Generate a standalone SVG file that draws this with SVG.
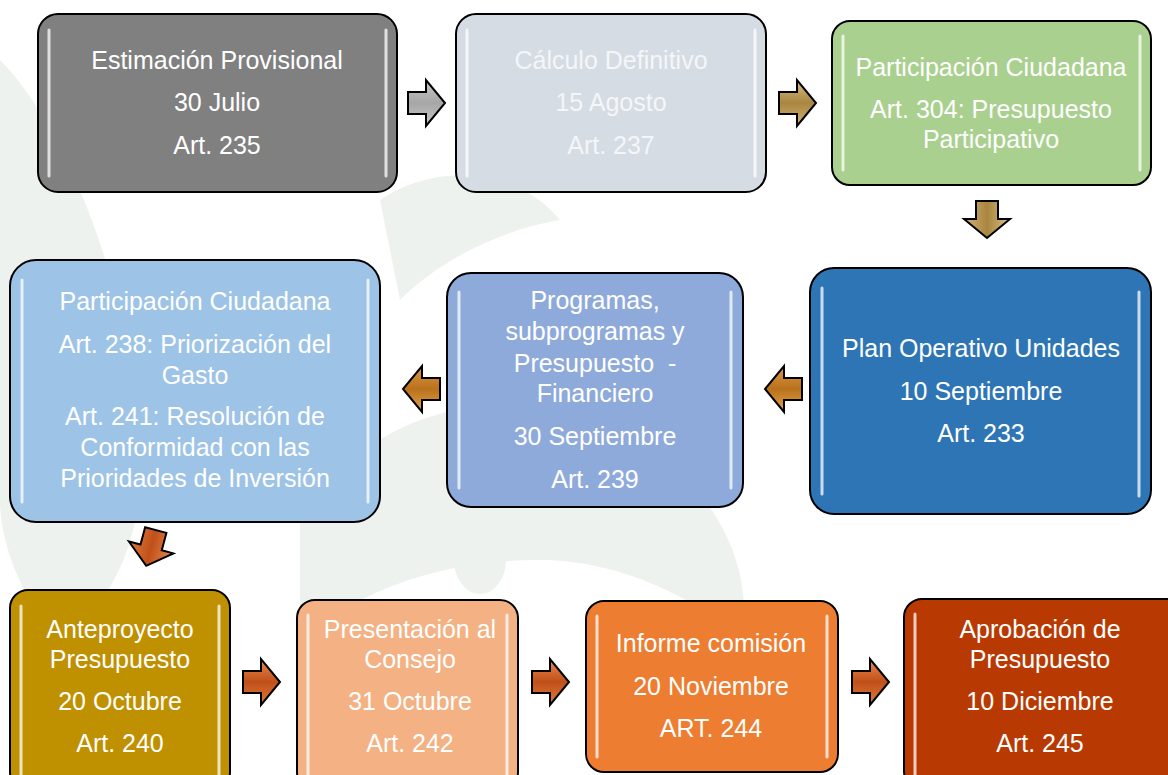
<svg xmlns="http://www.w3.org/2000/svg" width="1168" height="775" viewBox="0 0 1168 775">
<style>
.n{stroke:#000;stroke-width:2}
.t{font-family:"Liberation Sans",Arial,sans-serif;font-size:25px;fill:#fff;text-anchor:middle}
.tl{fill:#f4f6f8}
.hl{stroke:#fff;stroke-width:3;stroke-linecap:round;opacity:0.75}
.ar{stroke:#000;stroke-width:2;stroke-linejoin:miter}
.wm{fill:#eef2ee}
</style>
<defs>
<path id="arr" d="M0,12 H18 V0 L37,23 L18,46 V34 H0 Z"/>
<linearGradient id="gGray" x1="0" y1="0" x2="0" y2="1"><stop offset="0" stop-color="#c8c8c8"/><stop offset="0.5" stop-color="#a6a6a6"/><stop offset="1" stop-color="#c8c8c8"/></linearGradient>
<linearGradient id="gTan" x1="0" y1="0" x2="0" y2="1"><stop offset="0" stop-color="#d9bf86"/><stop offset="0.5" stop-color="#a98540"/><stop offset="1" stop-color="#d2b575"/></linearGradient>
<linearGradient id="gBrown" x1="0" y1="0" x2="0" y2="1"><stop offset="0" stop-color="#e3a24c"/><stop offset="0.5" stop-color="#b9711c"/><stop offset="1" stop-color="#dc9a45"/></linearGradient>
<linearGradient id="gOrange" x1="0" y1="0" x2="0" y2="1"><stop offset="0" stop-color="#e98a4f"/><stop offset="0.5" stop-color="#c0501a"/><stop offset="1" stop-color="#e07a3a"/></linearGradient>
</defs>
<rect width="1168" height="775" fill="#ffffff"/>
<g id="watermark">
<path class="wm" d="M0,60 C60,120 120,260 140,420 C150,520 120,600 60,640 C20,600 0,540 0,500 Z"/>
<path class="wm" d="M300,520 C360,420 480,380 600,420 C700,460 760,560 740,640 C700,600 620,560 540,560 C440,560 360,590 300,640 Z"/>
<path class="wm" d="M380,200 C440,160 520,170 560,220 C500,230 440,260 400,300 Z"/>
<ellipse class="wm" cx="480" cy="560" rx="26" ry="34"/>
</g>
<g id="connectors">
<use href="#arr" class="ar" fill="url(#gGray)" transform="translate(408,80)"/>
<use href="#arr" class="ar" fill="url(#gTan)" transform="translate(779,80)"/>
<use href="#arr" class="ar" fill="url(#gTan)" transform="translate(1010,201) rotate(90)"/>
<use href="#arr" class="ar" fill="url(#gBrown)" transform="translate(802,412) rotate(180)"/>
<use href="#arr" class="ar" fill="url(#gBrown)" transform="translate(440,412) rotate(180)"/>
<use href="#arr" class="ar" fill="url(#gOrange)" transform="translate(178,536) rotate(105)"/>
<use href="#arr" class="ar" fill="url(#gOrange)" transform="translate(243,659)"/>
<use href="#arr" class="ar" fill="url(#gOrange)" transform="translate(532,659)"/>
<use href="#arr" class="ar" fill="url(#gOrange)" transform="translate(852,659)"/>
</g>
<g id="n1">
<rect class="n" x="38" y="14" width="359" height="178" rx="20" fill="#808080"/>
<line class="hl" x1="49" y1="30" x2="49" y2="176"/><line class="hl" x1="386" y1="30" x2="386" y2="176"/>
<text class="t" x="217" y="69">Estimación Provisional</text>
<text class="t" x="217" y="111">30 Julio</text>
<text class="t" x="217" y="154">Art. 235</text>
</g>
<g id="n2">
<rect class="n" x="456" y="14" width="310" height="178" rx="20" fill="#d6dce4"/>
<line class="hl" x1="467" y1="30" x2="467" y2="176"/><line class="hl" x1="755" y1="30" x2="755" y2="176"/>
<text class="t tl" x="611" y="69">Cálculo Definitivo</text>
<text class="t tl" x="611" y="111">15 Agosto</text>
<text class="t tl" x="611" y="154">Art. 237</text>
</g>
<g id="n3">
<rect class="n" x="832" y="21" width="319" height="164" rx="18" fill="#a9d08e"/>
<line class="hl" x1="843" y1="36" x2="843" y2="170"/><line class="hl" x1="1140" y1="36" x2="1140" y2="170"/>
<text class="t" x="991" y="76">Participación Ciudadana</text>
<text class="t" x="991" y="118">Art. 304: Presupuesto</text>
<text class="t" x="991" y="148">Participativo</text>
</g>
<g id="n4">
<rect class="n" x="810" y="268" width="341" height="246" rx="24" fill="#2e75b6"/>
<line class="hl" x1="822" y1="288" x2="822" y2="494"/><line class="hl" x1="1139" y1="292" x2="1139" y2="496"/>
<text class="t" x="981" y="357">Plan Operativo Unidades</text>
<text class="t" x="981" y="400">10 Septiembre</text>
<text class="t" x="981" y="442">Art. 233</text>
</g>
<g id="n5">
<rect class="n" x="447" y="273" width="296" height="234" rx="24" fill="#8eaadb"/>
<line class="hl" x1="459" y1="292" x2="459" y2="488"/><line class="hl" x1="731" y1="292" x2="731" y2="488"/>
<text class="t" x="595" y="309">Programas,</text>
<text class="t" x="595" y="340">subprogramas y</text>
<text class="t" x="595" y="372" xml:space="preserve">Presupuesto  -</text>
<text class="t" x="595" y="402">Financiero</text>
<text class="t" x="595" y="445">30 Septiembre</text>
<text class="t" x="595" y="488">Art. 239</text>
</g>
<g id="n6">
<rect class="n" x="10" y="260" width="370" height="262" rx="26" fill="#9dc3e6"/>
<line class="hl" x1="22" y1="280" x2="22" y2="502"/><line class="hl" x1="368" y1="280" x2="368" y2="502"/>
<text class="t" x="195" y="310">Participación Ciudadana</text>
<text class="t" x="195" y="353">Art. 238: Priorización del</text>
<text class="t" x="195" y="384">Gasto</text>
<text class="t" x="195" y="425">Art. 241: Resolución de</text>
<text class="t" x="195" y="456">Conformidad con las</text>
<text class="t" x="195" y="487">Prioridades de Inversión</text>
</g>
<g id="n7">
<rect class="n" x="10" y="590" width="220" height="200" rx="18" fill="#bf9000"/>
<line class="hl" x1="21" y1="606" x2="21" y2="775"/><line class="hl" x1="219" y1="606" x2="219" y2="775"/>
<text class="t" x="120" y="638">Anteproyecto</text>
<text class="t" x="120" y="668">Presupuesto</text>
<text class="t" x="120" y="710">20 Octubre</text>
<text class="t" x="120" y="752">Art. 240</text>
</g>
<g id="n8">
<rect class="n" x="297" y="600" width="221" height="190" rx="18" fill="#f4b183"/>
<line class="hl" x1="308" y1="615" x2="308" y2="775"/><line class="hl" x1="507" y1="615" x2="507" y2="775"/>
<text class="t" x="410" y="638">Presentación al</text>
<text class="t" x="410" y="668">Consejo</text>
<text class="t" x="410" y="710">31 Octubre</text>
<text class="t" x="410" y="752">Art. 242</text>
</g>
<g id="n9">
<rect class="n" x="586" y="601" width="252" height="171" rx="18" fill="#ed7d31"/>
<line class="hl" x1="597" y1="616" x2="597" y2="757"/><line class="hl" x1="827" y1="616" x2="827" y2="757"/>
<text class="t" x="711" y="652">Informe comisión</text>
<text class="t" x="711" y="695">20 Noviembre</text>
<text class="t" x="711" y="737">ART. 244</text>
</g>
<g id="n10">
<rect class="n" x="904" y="599" width="280" height="190" rx="18" fill="#b83a02"/>
<line class="hl" x1="915" y1="614" x2="915" y2="775"/>
<text class="t" x="1040" y="638">Aprobación de</text>
<text class="t" x="1040" y="668">Presupuesto</text>
<text class="t" x="1040" y="710">10 Diciembre</text>
<text class="t" x="1040" y="752">Art. 245</text>
</g>
</svg>
